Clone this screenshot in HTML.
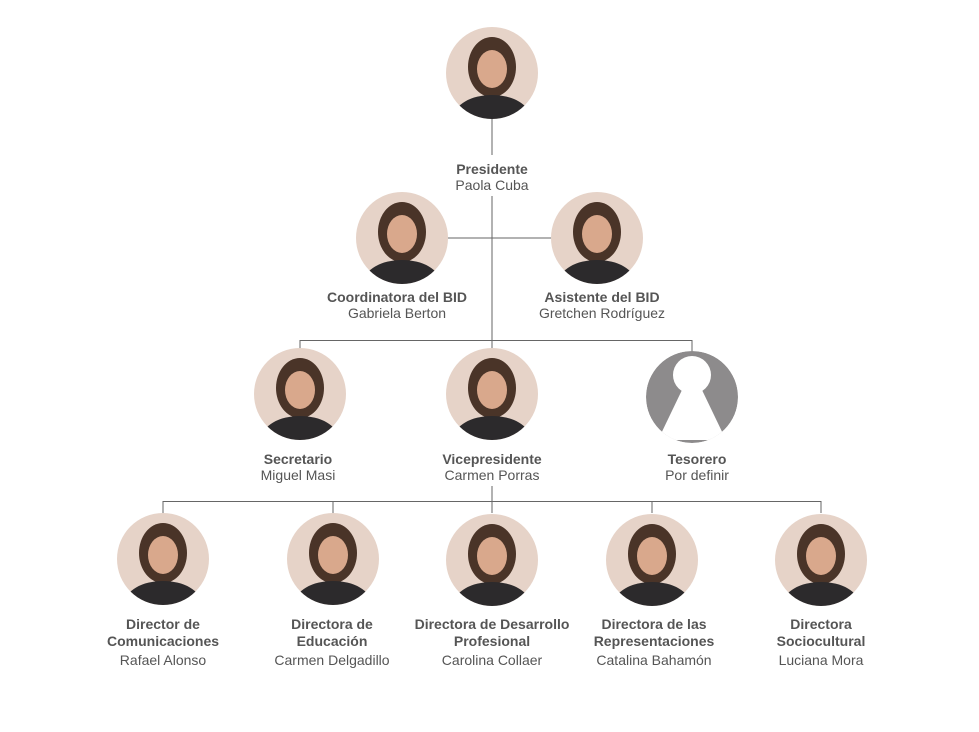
<!DOCTYPE html>
<html><head><meta charset="utf-8"><style>
body{margin:0;background:#fff;}
svg{display:block}
text{font-family:"Liberation Sans",sans-serif;font-size:14px;fill:#555;text-anchor:middle}
.b{font-weight:bold}
</style></head><body>
<svg width="979" height="732" viewBox="0 0 979 732">
<defs>
<clipPath id="c"><circle cx="0" cy="0" r="46"/></clipPath>
<clipPath id="t"><circle cx="692" cy="397" r="46"/></clipPath>
<g id="p" clip-path="url(#c)">
<rect x="-46" y="-46" width="92" height="92" fill="#e6d3c8"/>
<ellipse cx="0" cy="-6" rx="24" ry="30" fill="#4a3428"/>
<ellipse cx="0" cy="44" rx="38" ry="22" fill="#2c2a2c"/>
<ellipse cx="0" cy="-4" rx="15" ry="19" fill="#d9a88c"/>
</g>
</defs>
<g stroke="#666" stroke-width="1" fill="none">
<line x1="492" y1="119" x2="492" y2="155"/>
<line x1="492" y1="196" x2="492" y2="340"/>
<line x1="447" y1="238" x2="552" y2="238"/>
<polyline points="300,350 300,340.5 692,340.5 692,351"/>
<line x1="492" y1="340" x2="492" y2="350"/>
<line x1="492" y1="486" x2="492" y2="501"/>
<polyline points="163,513 163,501.5 821,501.5 821,513"/>
<line x1="333" y1="501" x2="333" y2="513"/>
<line x1="492" y1="501" x2="492" y2="513"/>
<line x1="652" y1="501" x2="652" y2="513"/>
</g>
<use href="#p" transform="translate(492,73)"/>
<use href="#p" transform="translate(402,238)"/>
<use href="#p" transform="translate(597,238)"/>
<use href="#p" transform="translate(300,394)"/>
<use href="#p" transform="translate(492,394)"/>
<use href="#p" transform="translate(163,559)"/>
<use href="#p" transform="translate(333,559)"/>
<use href="#p" transform="translate(492,560)"/>
<use href="#p" transform="translate(652,560)"/>
<use href="#p" transform="translate(821,560)"/>
<g clip-path="url(#t)">
<circle cx="692" cy="397" r="46" fill="#8d8b8c"/>
<polygon points="682,390 702,390 726,440 658,440" fill="#fff"/>
</g>
<circle cx="692" cy="375" r="19" fill="#fff"/>
<text class="b" x="492" y="174">Presidente</text><text x="492" y="190">Paola Cuba</text>
<text class="b" x="397" y="302">Coordinatora del BID</text><text x="397" y="318">Gabriela Berton</text>
<text class="b" x="602" y="302">Asistente del BID</text><text x="602" y="318">Gretchen Rodríguez</text>
<text class="b" x="298" y="464">Secretario</text><text x="298" y="480">Miguel Masi</text>
<text class="b" x="492" y="464">Vicepresidente</text><text x="492" y="480">Carmen Porras</text>
<text class="b" x="697" y="464">Tesorero</text><text x="697" y="480">Por definir</text>
<text class="b" x="163" y="629">Director de</text><text class="b" x="163" y="646">Comunicaciones</text><text x="163" y="665">Rafael Alonso</text>
<text class="b" x="332" y="629">Directora de</text><text class="b" x="332" y="646">Educación</text><text x="332" y="665">Carmen Delgadillo</text>
<text class="b" x="492" y="629">Directora de Desarrollo</text><text class="b" x="492" y="646">Profesional</text><text x="492" y="665">Carolina Collaer</text>
<text class="b" x="654" y="629">Directora de las</text><text class="b" x="654" y="646">Representaciones</text><text x="654" y="665">Catalina Bahamón</text>
<text class="b" x="821" y="629">Directora</text><text class="b" x="821" y="646">Sociocultural</text><text x="821" y="665">Luciana Mora</text>
</svg>
</body></html>
